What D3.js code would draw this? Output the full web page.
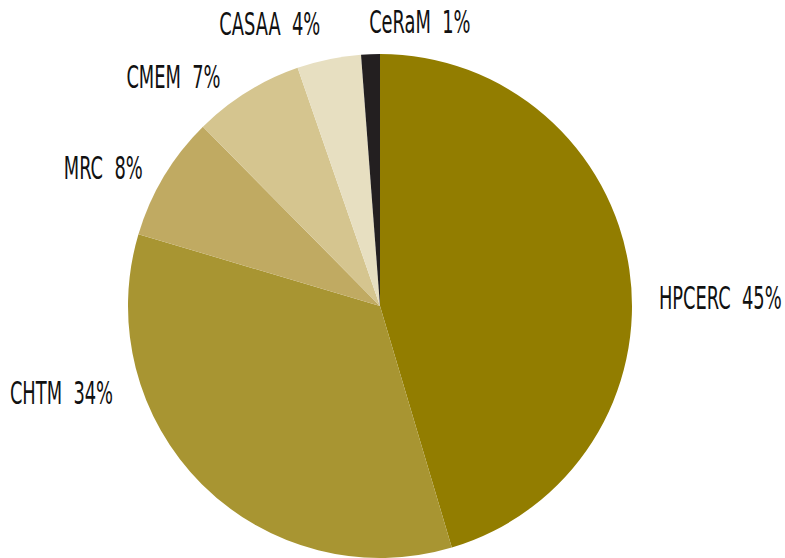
<!DOCTYPE html>
<html><head><meta charset="utf-8">
<script src="https://cdn.jsdelivr.net/npm/d3@7"></script>
<style>
html,body{margin:0;padding:0;background:#fff;}
text{font-family:"DejaVu Sans Condensed","Liberation Sans Narrow",sans-serif;white-space:pre;}
</style></head>
<body><svg id="chart" width="785" height="558"></svg>
<script>
const categories = ["HPCERC","CHTM","MRC","CMEM","CASAA","CeRaM"];
const values = [45.4, 34.2, 8.0, 7.1, 4.1, 1.2];
const pctLabels = ["45%","34%","8%","7%","4%","1%"];
const colors = ["#927D00","#A89532","#C0AA62","#D5C58F","#E7DFC1","#231F20"];

// label layout: polar angle (deg, clockwise from top), distance from centre, anchor
const labelLayout = [
  {a:88.6, d:279, anchor:"start"},
  {a:251.8, d:281, anchor:"end"},
  {a:300.0, d:274, anchor:"end"},
  {a:325.0, d:278, anchor:"end"},
  {a:338.6, d:302, anchor:"middle"},
  {a:8.0, d:286, anchor:"middle"}
];

const W=785,H=558, cx=380, cy=306, R=252;
const svg=d3.select("#chart");
const g=svg.append("g").attr("transform",`translate(${cx},${cy})`);
const data=categories.map((c,i)=>({name:c,value:values[i],pct:pctLabels[i],color:colors[i],lay:labelLayout[i]}));
const pie=d3.pie().sort(null).value(d=>d.value);
const arc=d3.arc().innerRadius(0).outerRadius(R);
const arcs=pie(data);
g.selectAll("path").data(arcs).join("path").attr("d",arc).attr("fill",d=>d.data.color);

const sx=0.62;
g.selectAll("text.lbl").data(arcs).join("text").attr("class","lbl")
  .attr("transform",d=>{
    const t=d.data.lay.a*Math.PI/180;
    const x=Math.sin(t)*d.data.lay.d, y=-Math.cos(t)*d.data.lay.d;
    return `translate(${x},${y}) scale(${sx},1)`;
  })
  .attr("text-anchor",d=>d.data.lay.anchor)
  .attr("dy","0.31em")
  .attr("font-size",32)
  .attr("fill","#111")
  .text(d=>d.data.name+"  "+d.data.pct);
</script></body></html>
